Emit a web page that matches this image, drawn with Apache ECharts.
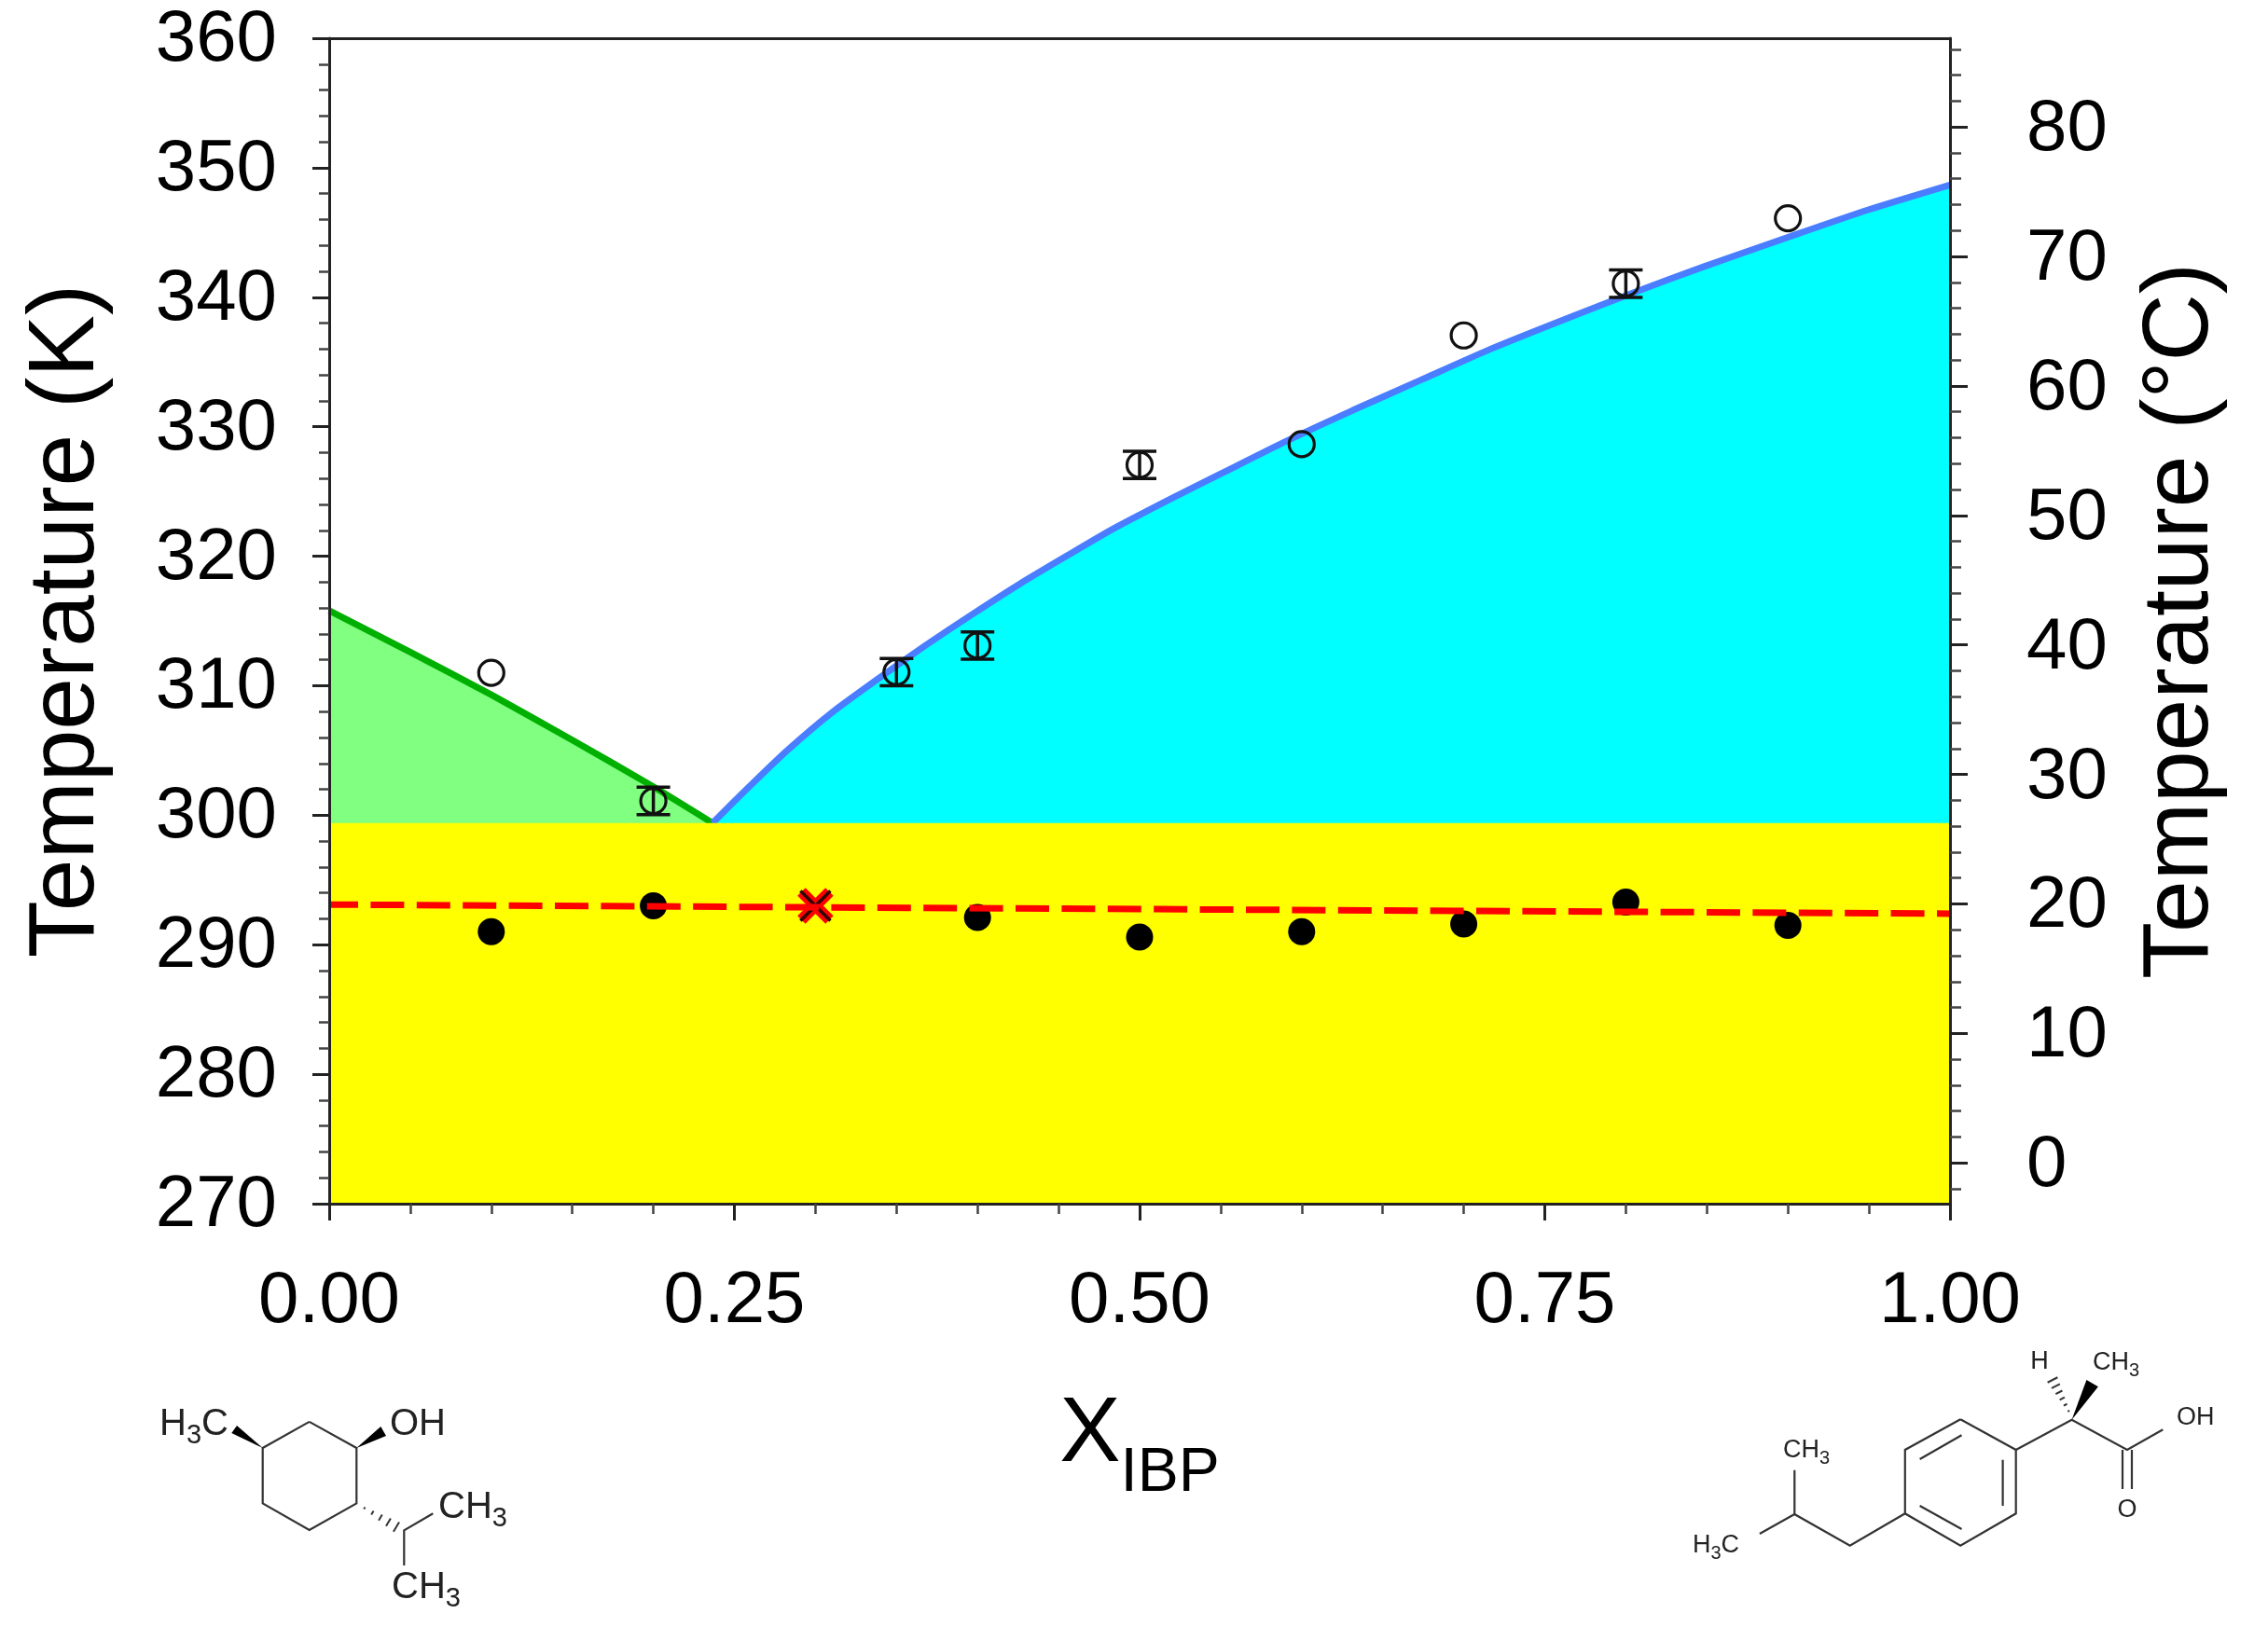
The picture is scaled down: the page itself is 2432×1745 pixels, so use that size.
<!DOCTYPE html>
<html>
<head>
<meta charset="utf-8">
<style>html,body{margin:0;padding:0;background:#fff}#c{width:2432px;height:1745px}</style>
<script src="https://cdn.jsdelivr.net/npm/echarts@6/dist/echarts.min.js"></script>
</head>
<body>
<div id="c"></div>
<script>
// ---- data ----
const solidusLine   = [[0,299.4],[1,299.4]];
const liquidusMenthol = [[0,315.8],[0.05,312.6],[0.1,309.3],[0.15,305.8],[0.2,302.2],[0.2365,299.4]];
const liquidusIBP   = [[0.2365,299.4],[0.2591,302.2],[0.2821,304.95],[0.3109,308.0],[0.3416,310.8],[0.3684,313.15],[0.3972,315.55],[0.4259,317.85],[0.4547,320.0],[0.4835,322.1],[0.5219,324.6],[0.5506,326.4],[0.589,328.8],[0.6312,331.25],[0.6734,333.6],[0.7175,336.05],[0.7674,338.55],[0.8057,340.4],[0.8479,342.35],[0.9016,344.7],[0.9496,346.75],[1,348.67]];
const eutecticFit   = [[0,293.1],[1,292.4]];
const openX  = [0.1,0.2,0.35,0.4,0.5,0.6,0.7,0.8,0.9];
const openT  = [311,301.1,311.05,313.1,327.05,328.65,337.05,341.05,346.1];
const openErr= [0,1.06,1.06,1.06,1.06,0,0,1.06,0];
const filledX= [0.1,0.2,0.4,0.5,0.6,0.7,0.8,0.9];
const filledT= [291,293,292.1,290.6,291,291.6,293.3,291.5];
const crossPoint = [[0.3,293]];
const celsiusTicks = [0,10,20,30,40,50,60,70,80];
const celsiusMinor = [-2,2,4,6,8,12,14,16,18,22,24,26,28,32,34,36,38,42,44,46,48,52,54,56,58,62,64,66,68,72,74,76,78,82,84,86];

const FONT = '"Liberation Sans", Arial, sans-serif';
const LBL = 78, TITLE = 100;
const openPts = openX.map((x,i)=>[x,openT[i]]);
const filledPts = filledX.map((x,i)=>[x,filledT[i]]);
const errPts = openX.map((x,i)=>[x,openT[i],openErr[i]]).filter(d=>d[2]>0);
const axisCol = '#222';

// ---- molecule drawing helpers (illustration only) ----
const MOL = '#333';
function ln(p,q,w){return {type:'line',z:20,shape:{x1:p[0],y1:p[1],x2:q[0],y2:q[1]},style:{stroke:MOL,lineWidth:w||2.2}};}
function poly(pts,w){return {type:'polyline',z:20,shape:{points:pts},style:{stroke:MOL,lineWidth:w||2.2,fill:null}};}
function wedge(a,b,c){return {type:'polygon',z:20,shape:{points:[a,b,c]},style:{fill:'#000'}};}
function hash(p,q,n,maxW){
  const out=[];const dx=q[0]-p[0],dy=q[1]-p[1];const L=Math.hypot(dx,dy);const nx=-dy/L,ny=dx/L;
  for(let i=1;i<=n;i++){const t=i/n;const cx=p[0]+dx*t,cy=p[1]+dy*t;const h=maxW*t;
    out.push(ln([cx-nx*h,cy-ny*h],[cx+nx*h,cy+ny*h],2));}
  return out;
}
function txt(x,y,rich,fs,sub,align){
  return {type:'text',z:20,x:x,y:y,style:{text:rich,font:fs+'px '+FONT,fontFamily:'Liberation Sans',fontSize:fs,fill:'#222',align:align||'left',verticalAlign:'middle',
    rich:{n:{fontFamily:'Liberation Sans',fontSize:fs,fill:'#222'},s:{fontFamily:'Liberation Sans',fontSize:sub,fill:'#222',padding:[Math.round(fs*0.6),0,0,0]}}}};
}
const mentholG = [
  poly([[331.7,1524.9],[382.3,1553],[382.3,1612.4],[331.7,1641],[281.7,1612.4],[281.7,1553],[331.7,1524.9]]),
  wedge([281.7,1553],[248.3,1537],[254,1529]),
  wedge([382.3,1553],[414,1540],[408.3,1530]),
  ...hash([382.3,1612.4],[425,1637.7],5,6),
  poly([[464.3,1623.2],[433.3,1641.3],[433.3,1679]]),
  txt(171,1528,'{n|H}{s|3}{n|C}',40,29),
  txt(418,1528,'{n|OH}',40,29),
  txt(470,1617,'{n|CH}{s|3}',40,29),
  txt(420,1703,'{n|CH}{s|3}',40,29)
];
const ibpG = [
  poly([[2102.2,1522.3],[2161.7,1555],[2161.7,1623.3],[2102.2,1657.7],[2042.8,1623.3],[2042.8,1555],[2102.2,1522.3]]),
  ln([2058.6,1565],[2103.5,1539.3]), ln([2147.6,1565.7],[2147.6,1615]), ln([2058.6,1615],[2103.5,1640]),
  poly([[2042.8,1623.3],[1983.7,1657.7],[1924.3,1624],[1924.3,1576.7]]),
  ln([1924.3,1624],[1886.9,1645]),
  poly([[2161.7,1555],[2221.6,1522.7],[2281,1555],[2319.3,1533.3]]),
  ln([2276,1555],[2276,1597]), ln([2286,1555],[2286,1597]),
  wedge([2221.6,1522.7],[2237.4,1480],[2249.9,1487.3]),
  ...hash([2221.6,1520],[2201,1480],6,6),
  txt(2187,1461,'{n|H}',27,20,'center'),
  txt(2244,1462,'{n|CH}{s|3}',27,20),
  txt(2334,1521,'{n|OH}',27,20),
  txt(2281,1620,'{n|O}',27,20,'center'),
  txt(1912,1556,'{n|CH}{s|3}',27,20),
  txt(1815,1658,'{n|H}{s|3}{n|C}',27,20)
];

const crossPath = 'path://M-10,-10 L10,10 M10,-10 L-10,10';

const option = {
  backgroundColor:'#fff',
  animation:false,
  grid:{left:353,top:41,width:1738,height:1250,containLabel:false,outerBoundsMode:'none'},
  xAxis:[
    {type:'value',position:'bottom',min:0,max:1,interval:0.25,z:10,
     name:'{x|X}{s|IBP}',nameLocation:'middle',nameGap:175,
     nameTextStyle:{rich:{x:{fontFamily:FONT,fontSize:98,color:'#000'},s:{fontFamily:FONT,fontSize:66,color:'#000',padding:[82,0,0,0]}}},
     axisLine:{show:true,onZero:false,lineStyle:{color:axisCol,width:3}},
     axisTick:{show:true,length:18,lineStyle:{color:axisCol,width:3}},
     minorTick:{show:true,splitNumber:5,length:11,lineStyle:{color:'#444',width:2.5}},
     splitLine:{show:false},
     axisLabel:{margin:66,fontFamily:FONT,fontSize:LBL,color:'#000',formatter:v=>v.toFixed(2)}},
    {type:'value',position:'top',min:0,max:1,z:10,
     axisLine:{show:true,onZero:false,lineStyle:{color:axisCol,width:3}},
     axisTick:{show:false},axisLabel:{show:false},splitLine:{show:false}}
  ],
  yAxis:[
    {type:'value',position:'left',min:270,max:360,interval:10,z:10,
     name:'Temperature (K)',nameLocation:'middle',nameGap:231,nameRotate:90,
     nameTextStyle:{fontFamily:FONT,fontSize:TITLE,color:'#000'},
     axisLine:{show:true,onZero:false,lineStyle:{color:axisCol,width:3}},
     axisTick:{show:true,length:18,lineStyle:{color:axisCol,width:3}},
     minorTick:{show:true,splitNumber:5,length:11,lineStyle:{color:'#444',width:2.5}},
     splitLine:{show:false},
     axisLabel:{margin:56,fontFamily:FONT,fontSize:LBL,color:'#000',verticalAlign:'top',lineHeight:5}},
    {type:'value',position:'right',min:-3.15,max:86.85,z:10,
     name:'Temperature (°C)',nameLocation:'middle',nameGap:198,nameRotate:90,
     nameTextStyle:{fontFamily:FONT,fontSize:TITLE,color:'#000'},
     axisLine:{show:true,onZero:false,lineStyle:{color:axisCol,width:3}},
     axisTick:{show:true,length:19,customValues:celsiusTicks,lineStyle:{color:axisCol,width:3}},
     splitLine:{show:false},
     axisLabel:{margin:82,fontFamily:FONT,fontSize:LBL,color:'#000',align:'left',verticalAlign:'top',lineHeight:7,customValues:celsiusTicks}},
    {type:'value',position:'right',min:-3.15,max:86.85,z:10,
     axisLine:{show:false,onZero:false},
     axisTick:{show:true,length:12,customValues:celsiusMinor,lineStyle:{color:'#444',width:2.5}},
     axisLabel:{show:false},splitLine:{show:false}}
  ],
  series:[
    {name:'IBP region',type:'line',data:liquidusIBP,symbol:'none',smooth:0.2,z:2,lineStyle:{width:0},areaStyle:{color:'#00ffff',opacity:1,origin:'start'}},
    {name:'Menthol region',type:'line',data:liquidusMenthol,symbol:'none',smooth:0.2,z:2,lineStyle:{width:0},areaStyle:{color:'#80ff80',opacity:1,origin:'start'}},
    {name:'Liquidus menthol',type:'line',data:liquidusMenthol,symbol:'none',smooth:0.2,z:3,clip:false,lineStyle:{color:'#00b000',width:7}},
    {name:'Liquidus IBP',type:'line',data:liquidusIBP,symbol:'none',smooth:0.2,z:3,clip:false,lineStyle:{color:'#4a7dff',width:7}},
    {name:'Solid',type:'line',data:solidusLine,symbol:'none',z:4,lineStyle:{width:0},areaStyle:{color:'#ffff00',opacity:1,origin:'start'}},
    {name:'Solidus points',type:'scatter',data:filledPts,symbol:'circle',symbolSize:29,z:5,itemStyle:{color:'#000',opacity:1}},
    {name:'Eutectic composition outer',type:'scatter',data:crossPoint,symbol:crossPath,symbolSize:30,z:5,itemStyle:{color:'none',borderColor:'#ff0000',borderWidth:12,opacity:1}},
    {name:'Eutectic composition',type:'scatter',data:crossPoint,symbol:crossPath,symbolSize:32,z:5,itemStyle:{color:'none',borderColor:'#300000',borderWidth:3.5,opacity:1}},
    {name:'Eutectic fit',type:'line',data:eutecticFit,symbol:'none',z:6,clip:false,lineStyle:{color:'#ff0000',width:7,type:[36,13.4],dashOffset:5}},
    {name:'Liquidus points',type:'scatter',data:openPts,symbol:'circle',symbolSize:27,z:7,itemStyle:{color:'rgba(0,0,0,0)',borderColor:'#111',borderWidth:3.2,opacity:1}},
    {name:'Error bars',type:'custom',data:errPts,z:7,
     renderItem:function(params,api){
       const x=api.value(0),y=api.value(1),e=api.value(2);
       const hi=api.coord([x,y+e]),lo=api.coord([x,y-e]);const s={stroke:'#111',lineWidth:3.5};
       return {type:'group',children:[
         {type:'line',shape:{x1:hi[0],y1:hi[1],x2:lo[0],y2:lo[1]},style:s},
         {type:'line',shape:{x1:hi[0]-18,y1:hi[1],x2:hi[0]+18,y2:hi[1]},style:s},
         {type:'line',shape:{x1:lo[0]-18,y1:lo[1],x2:lo[0]+18,y2:lo[1]},style:s}
       ]};
     }}
  ],
  graphic:{elements:[...mentholG,...ibpG]}
};
const chart = echarts.init(document.getElementById('c'),null,{renderer:'canvas'});
chart.setOption(option);
</script>
</body>
</html>
